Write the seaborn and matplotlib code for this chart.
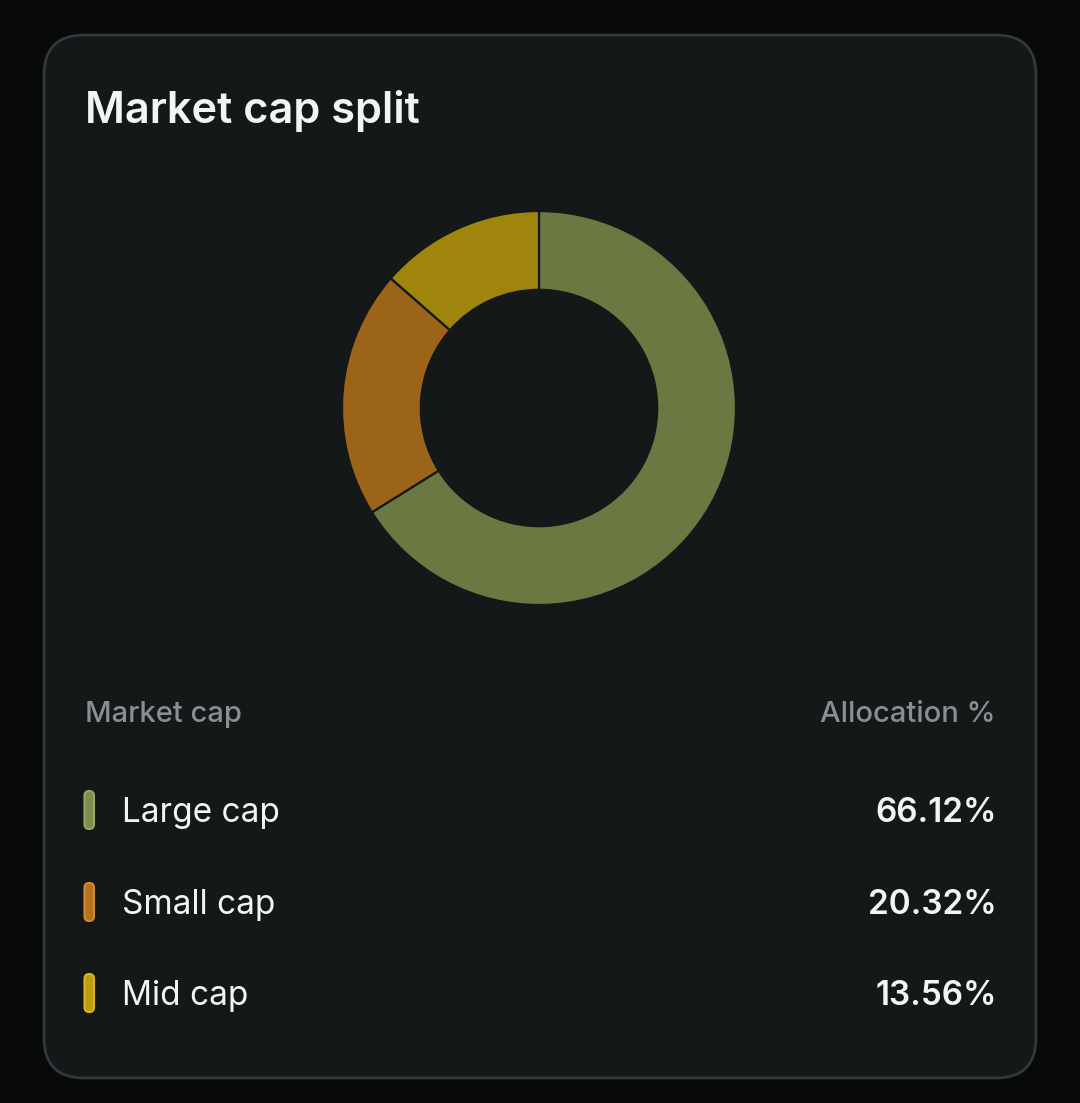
import matplotlib.pyplot as plt
import seaborn as sns
from matplotlib.patches import FancyBboxPatch

title = "Market cap split"
categories = ["Large cap", "Small cap", "Mid cap"]
allocation = [66.12, 20.32, 13.56]
header_left = "Market cap"
header_right = "Allocation %"

sns.set_theme(style="dark")
plt.rcParams["font.family"] = ["Inter", "DejaVu Sans"]

wedge_colors = ["#6a7941", "#9c6418", "#a0850c"]
pill_fill = ["#7f8c4b", "#b5721f", "#bf9c0c"]
pill_edge = ["#98a563", "#d08a33", "#d9b524"]
palette = sns.color_palette(wedge_colors)

W, H = 1080, 1103
fig = plt.figure(figsize=(W / 100, H / 100), dpi=100, facecolor="#08090a")

bg = fig.add_axes([0, 0, 1, 1])
bg.set_xlim(0, W)
bg.set_ylim(H, 0)
bg.axis("off")
bg.set_facecolor("#08090a")

card = FancyBboxPatch((44, 35), 992, 1043, boxstyle="round,pad=0,rounding_size=40",
                      facecolor="#151819", edgecolor="#34383a", linewidth=2)
bg.add_patch(card)

bg.text(85, 111, title, color="#f2f4f5", fontsize=31.2, fontweight="semibold",
        va="center", ha="left")

bg.text(85, 714, header_left, color="#8b8e90", fontsize=21, fontweight="medium",
        va="center", ha="left")
bg.text(996, 714, header_right, color="#8b8e90", fontsize=21, fontweight="medium",
        va="center", ha="right")

row_y = [813, 905, 996]
for i, (cat, val) in enumerate(zip(categories, allocation)):
    y = row_y[i]
    pill = FancyBboxPatch((84.5, y - 22), 9.5, 38, boxstyle="round,pad=0,rounding_size=4.7",
                          facecolor=pill_fill[i], edgecolor=pill_edge[i], linewidth=1.5)
    bg.add_patch(pill)
    bg.text(122, y, cat, color="#f2f4f5", fontsize=24, va="center", ha="left")
    bg.text(997, y, f"{val:.2f}%", color="#f2f4f5", fontsize=24,
            fontweight="semibold", va="center", ha="right")

cx, cy, r = 539, 408, 197
pie_ax = fig.add_axes([(cx - r) / W, 1 - (cy + r) / H, 2 * r / W, 2 * r / H])
pie_ax.pie(allocation, colors=palette, startangle=90, counterclock=False, radius=1,
           wedgeprops=dict(width=0.4, edgecolor="#151819", linewidth=1.6))
pie_ax.set_aspect("equal")
pie_ax.set_xlim(-1, 1)
pie_ax.set_ylim(-1, 1)
pie_ax.axis("off")

fig.savefig("out.png", dpi=100, facecolor=fig.get_facecolor())
